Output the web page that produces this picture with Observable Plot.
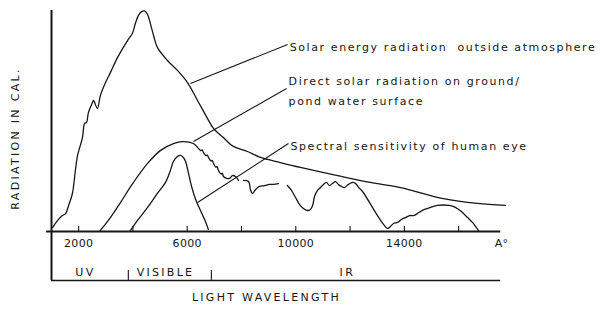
<!DOCTYPE html>
<html><head><meta charset="utf-8">
<script src="https://cdn.jsdelivr.net/npm/d3@7"></script>
<script src="https://cdn.jsdelivr.net/npm/@observablehq/plot@0.6"></script>
<style>
html,body{margin:0;padding:0;background:#fff}
#chart svg{display:block}
</style>
</head><body><div id="chart"></div>
<script>
// Wavelength in Ångström, radiation in relative units (0–100)
const solarWavelength = [1040,1220,1400,1520,1630,1770,1880,1960,2140,2220,2290,2360,2510,2550,2690,2800,2990,3170,3430,3800,3980,4090,4200,4320,4430,4540,4650,4760,4900,5270,5640,6010,6380,6750,6970,7330,7700,8220,8700,9430,10170,11540,12750,13860,15440,16690,17720];
const solarRadiation = [1.8,4.9,7.2,8.1,11.8,17.2,27.6,34.4,42.5,48.9,49.3,53.8,58.4,59.3,55.7,61.5,67.4,71.9,78.7,86.4,89.6,94.1,97.7,99.5,99.8,98.2,93.7,88.7,83.3,77.4,72.9,67.4,59.3,51.1,46.6,42.5,38.5,36.2,33.5,31.2,29.0,25.3,22.2,19.9,14.9,12.7,11.8];

const directWavelength = [2800,3170,3540,4020,4540,5020,5490,5830,6230,6415,6500,6550,6600,6690,6740,6784,6880,6920,6968,7060,7100,7152,7250,7290,7337,7447,7558,7668,7779,7889,
  8000,
  8070,8260,8330,8400,8520,8660,8850,9030,9180,9360,
  9500,
  9690,9840,9990,10140,10280,10430,10540,10620,10690,10800,10910,11020,11130,11240,11350,11460,11570,11680,11790,11940,12090,12200,12350,12460,13380,13490,13600,13750,13890,14040,14190,14340,14480,14590,14740,14960,15220,15440,15660,15880,16100,16330,16510,16730];
const directRadiation = [0.5,6.3,13.1,22.2,30.8,36.7,39.8,40.7,39.8,37.6,36.6,36.9,35.7,34.3,34.6,33.5,31.9,32.2,30.8,29.0,29.4,27.6,26.0,26.4,24.9,24.0,24.0,25.3,24.9,23.1,
  null,
  23.1,22.6,19.0,17.2,19.0,20.4,20.8,21.3,21.3,21.7,
  null,
  20.8,18.6,15.4,12.2,10.4,9.5,10.0,11.8,15.8,18.6,19.9,21.3,22.2,20.8,21.7,22.6,21.3,20.4,19.9,21.3,22.2,21.7,19.5,18.1,1.4,2.3,3.6,4.1,5.4,6.3,7.2,7.2,8.1,9.0,10.0,10.9,11.8,12.0,11.8,10.9,9.0,6.3,4.1,0.45];

const eyeWavelength = [3910,4170,4540,4900,5200,5380,5490,5640,5750,5860,5940,6050,6160,6310,6490,6640,6780];
const eyeSensitivity = [0.5,5.0,10.9,17.2,22.2,27.6,31.7,33.9,34.4,33.5,31.7,26.2,20.4,14.5,9.5,5.4,0.9];

const tickValues = [2000,4000,6000,8000,10000,12000,14000,16000];
const tickLabels = [2000,6000,10000,14000];
const regionNames = ["UV","VISIBLE","IR"];
const regionCenters = [2250,5200,11900];
const regionBounds = [3830,6890];

const annotationTexts = ["Solar energy radiation  outside atmosphere","Direct solar radiation on ground/\npond water surface","Spectral sensitivity of human eye"];
const annotationAnchors = [[6120,67.0],[6230,40.7],[6380,13.1]];
const annotationLabelPos = [[9700,84.6],[9660,64.7],[9730,39.8]];

const solar = solarWavelength.map((w,i)=>({w, v: solarRadiation[i]}));
const direct = directWavelength.map((w,i)=>({w, v: directRadiation[i]}));
const eye = eyeWavelength.map((w,i)=>({w, v: eyeSensitivity[i]}));
const annotations = annotationTexts.map((t,i)=>({
  text: t,
  x1: annotationAnchors[i][0], y1: annotationAnchors[i][1],
  x2: annotationLabelPos[i][0], y2: annotationLabelPos[i][1]
}));
const regions = regionNames.map((n,i)=>({name:n, x: regionCenters[i]}));

const ink = "#161616";
const curve = {x:"w", y:"v", stroke: ink, strokeWidth: 1.3, curve: "catmull-rom"};

const chart = Plot.plot({
  width: 600, height: 312,
  marginTop: 10, marginBottom: 81, marginLeft: 51, marginRight: 93,
  x: {domain: [1000, 17800], axis: null},
  y: {domain: [0, 100], axis: null},
  style: {fontFamily: "DejaVu Sans", fontSize: "11px", color: ink, background: "#fff", overflow: "visible"},
  marks: [
    Plot.line(solar, curve),
    Plot.line(direct, curve),
    Plot.line(eye, curve),
    Plot.link(annotations, {x1:"x1", y1:"y1", x2:"x2", y2:"y2", stroke: ink, strokeWidth: 1.1}),
    Plot.text(annotations, {x:"x2", y:"y2", text:"text", textAnchor:"start", dx: 2, lineHeight: 1.82, fill: ink, ariaDescription: "notes"}),
    Plot.ruleY([0], {x1: 820, x2: 17550, stroke: ink, strokeWidth: 2}),
    Plot.ruleX([1000], {y1: -22.2, y2: 100, stroke: ink, strokeWidth: 2}),
    Plot.ruleY([-22.2], {x1: 1000, x2: 17550, stroke: ink, strokeWidth: 1.6}),
    Plot.ruleX(regionBounds, {y1: -22.2, y2: -17.6, stroke: ink, strokeWidth: 1.1}),
    Plot.ruleX(tickValues, {y1: 0, y2: 2.3, stroke: ink, strokeWidth: 1.1}),
    Plot.text(tickLabels, {x: d=>d, y: -5.4, text: d=>String(d), fill: ink, ariaDescription: "digits"}),
    Plot.text(["A°"], {x: 17580, y: -5.4, fill: ink, ariaDescription: "digits"}),
    Plot.text(regions, {x:"x", y: -18.6, text:"name", fill: ink, ariaDescription: "caps"}),
    Plot.text(["LIGHT WAVELENGTH"], {x: 8920, y: -29.9, fill: ink, ariaDescription: "caps"}),
    Plot.text(["RADIATION IN CAL."], {x: -330, y: 42.1, rotate: -90, fill: ink, ariaDescription: "caps"})
  ]
});
document.getElementById("chart").append(chart);
const svg = d3.select(chart);
svg.selectAll('g[aria-description="notes"] text').style("letter-spacing","1.6px");
svg.selectAll('g[aria-description="caps"] text').style("letter-spacing","2.3px");
svg.selectAll('g[aria-description="digits"] text').style("letter-spacing","0.3px");
</script>
</body></html>
